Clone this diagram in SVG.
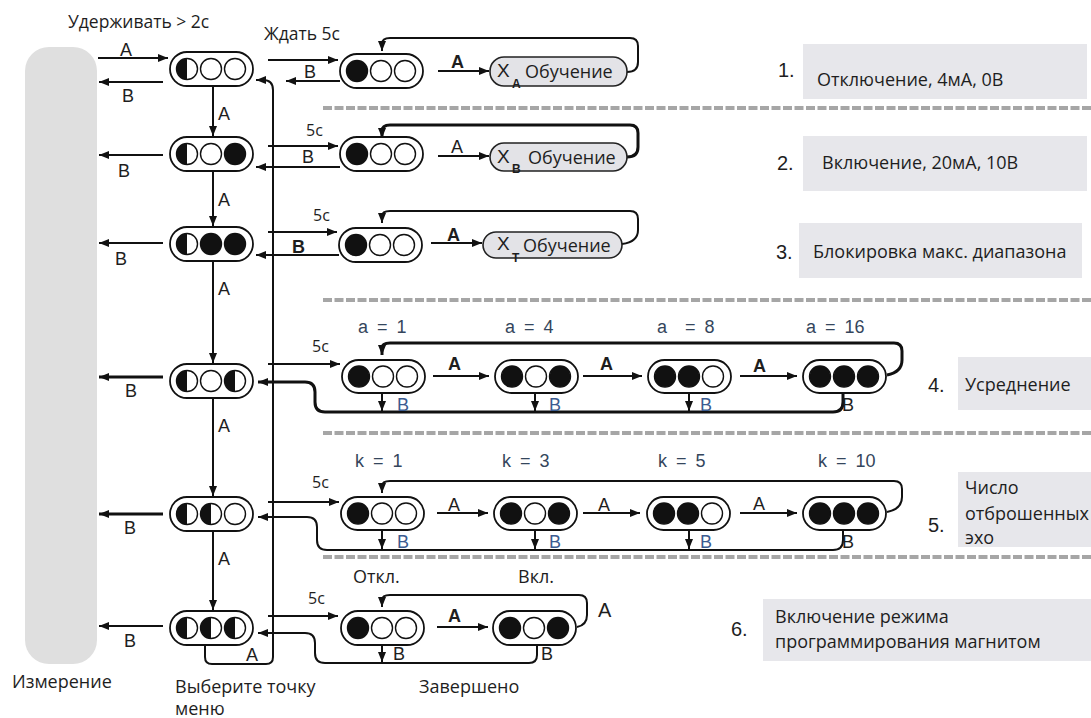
<svg xmlns="http://www.w3.org/2000/svg" width="1091" height="718" viewBox="0 0 1091 718">
<style>
.pill{fill:#fff;stroke:#111;stroke-width:1.8}
.learn{fill:#e3e3e7;stroke:#222;stroke-width:1.6}
.box{fill:#e7e7eb}
.c{fill:none;stroke:#111;stroke-width:2}
.thick{stroke-width:3}
.sep{fill:none;stroke:#a6a6a6;stroke-width:4;stroke-dasharray:9 2.5}
.ru{font-family:"Open Sans","Noto Sans",sans-serif;font-size:18px;fill:#1e1e1e}
.top{font-size:17.5px}
.ar{font-family:"Liberation Sans",Arial,sans-serif;font-size:18px;fill:#1e1e1e}
.num{font-family:"Liberation Sans",Arial,sans-serif;font-size:20px;fill:#1e1e1e}
.bold{font-weight:bold}
.sm{font-family:"Open Sans","Noto Sans",sans-serif;font-size:16px;fill:#1e1e1e}
.val{font-family:"Liberation Sans",Arial,sans-serif;font-size:18px;fill:#34465c;word-spacing:4px}
.blue{fill:#3b5b90}
</style>
<defs>
<marker id="ah" markerUnits="userSpaceOnUse" markerWidth="10" markerHeight="8" refX="10" refY="4" orient="auto">
<path d="M0,0 L10,4 L0,8 Z" fill="#111"/>
</marker>
<circle id="ce" r="10.5" fill="#fff" stroke="#111" stroke-width="1.4"/>
<circle id="cf" r="10.5" fill="#111" stroke="#111" stroke-width="1.4"/>
<g id="ch"><circle r="10.5" fill="#fff" stroke="#111" stroke-width="1.4"/><path d="M0,-10.5 A10.5,10.5 0 0,0 0,10.5 Z" fill="#111"/></g>
</defs>
<rect id="bar" x="25" y="47" width="72" height="617" rx="24" fill="#dfdfdf"/>
<g id="separators">
<path class="sep" d="M323,108 H1091"/>
<path class="sep" d="M323,300 H1091"/>
<path class="sep" d="M323,433 H1091"/>
<path class="sep" d="M323,557 H1091"/>
</g>
<g id="connectors">
<path class="c" d="M98,58 H168" marker-end="url(#ah)"/>
<path class="c" d="M163,82 H99" marker-end="url(#ah)"/>
<path class="c" d="M163,155 H99" marker-end="url(#ah)"/>
<path class="c" d="M163,243 H99" marker-end="url(#ah)"/>
<path class="c thick" d="M163,377 H99" marker-end="url(#ah)"/>
<path class="c thick" d="M163,514 H99" marker-end="url(#ah)"/>
<path class="c" d="M163,626 H99" marker-end="url(#ah)"/>
<path class="c" d="M213,87 V136" marker-end="url(#ah)"/>
<path class="c" d="M213,171 V226" marker-end="url(#ah)"/>
<path class="c" d="M213,261 V363" marker-end="url(#ah)"/>
<path class="c" d="M213,399 V496" marker-end="url(#ah)"/>
<path class="c" d="M213,532 V610" marker-end="url(#ah)"/>
<path class="c" d="M205,645 V657 Q205,664 212,664 H266 Q273,664 273,657 V90 Q273,80 263,80 H256" marker-end="url(#ah)"/>
<path class="c" d="M268,60 H338" marker-end="url(#ah)"/>
<path class="c" d="M340,81 H286" marker-end="url(#ah)"/>
<path class="c" d="M268,146 H338" marker-end="url(#ah)"/>
<path class="c" d="M340,167 H256" marker-end="url(#ah)"/>
<path class="c" d="M268,232 H337" marker-end="url(#ah)"/>
<path class="c" d="M339,255 H256" marker-end="url(#ah)"/>
<path class="c" d="M268,364 H340" marker-end="url(#ah)"/>
<path class="c" d="M268,502 H339" marker-end="url(#ah)"/>
<path class="c" d="M268,616 H338" marker-end="url(#ah)"/>
<path class="c" d="M438,71 H489" marker-end="url(#ah)"/>
<path class="c" d="M438,156 H489" marker-end="url(#ah)"/>
<path class="c" d="M431,243 H482" marker-end="url(#ah)"/>
<path class="c" d="M627,72 Q638,72 638,62 V46 Q638,38 630,38 H390 Q382,38 382,44 V51" marker-end="url(#ah)"/>
<path class="c thick" d="M627,157 Q638,157 638,147 V133 Q638,125 630,125 H390 Q382,125 382,131 V138" marker-end="url(#ah)"/>
<path class="c" d="M622,244 Q638,242 638,230 V219 Q638,211 630,211 H390 Q382,211 382,216 V223" marker-end="url(#ah)"/>
<path class="c" d="M433,376 H489" marker-end="url(#ah)"/>
<path class="c" d="M583,376 H642" marker-end="url(#ah)"/>
<path class="c" d="M740,376 H797" marker-end="url(#ah)"/>
<path class="c thick" d="M887,375 Q902,372 902,360 V351 Q902,343 894,343 H390 Q382,343 382,348 V355" marker-end="url(#ah)"/>
<path class="c thick" d="M843,394 V402 Q843,412 833,412 H325 Q315,412 315,402 V392 Q315,382 305,382 H258" marker-end="url(#ah)"/>
<path class="c" d="M382,394 V411" marker-end="url(#ah)"/>
<path class="c" d="M535,394 V411" marker-end="url(#ah)"/>
<path class="c" d="M689,394 V411" marker-end="url(#ah)"/>
<path class="c" d="M437,513 H488" marker-end="url(#ah)"/>
<path class="c" d="M583,513 H640" marker-end="url(#ah)"/>
<path class="c" d="M740,513 H797" marker-end="url(#ah)"/>
<path class="c" d="M887,512 Q902,509 902,497 V489 Q902,481 894,481 H390 Q382,481 382,486 V493" marker-end="url(#ah)"/>
<path class="c" d="M843,531 V540 Q843,550 833,550 H327 Q317,550 317,540 V527 Q317,517 307,517 H258" marker-end="url(#ah)"/>
<path class="c" d="M382,531 V549" marker-end="url(#ah)"/>
<path class="c" d="M535,531 V549" marker-end="url(#ah)"/>
<path class="c" d="M689,531 V549" marker-end="url(#ah)"/>
<path class="c" d="M437,627 H488" marker-end="url(#ah)"/>
<path class="c" d="M577,627 Q587,625 587,615 V603 Q587,595 579,595 H390 Q382,595 382,600 V607" marker-end="url(#ah)"/>
<path class="c" d="M537,645 V655 Q537,663 529,663 H325 Q315,663 315,653 V643 Q315,633 305,633 H258" marker-end="url(#ah)"/>
<path class="c" d="M382,645 V662" marker-end="url(#ah)"/>
</g>
<g id="L1"><rect class="pill" x="170" y="52" width="83" height="34" rx="17"/><use href="#ch" x="187" y="69"/><use href="#ce" x="211" y="69"/><use href="#ce" x="235" y="69"/></g>
<g id="L2"><rect class="pill" x="170" y="137" width="83" height="34" rx="17"/><use href="#ch" x="187" y="154"/><use href="#ce" x="211" y="154"/><use href="#cf" x="235" y="154"/></g>
<g id="L3"><rect class="pill" x="170" y="227" width="83" height="34" rx="17"/><use href="#ch" x="187" y="244"/><use href="#cf" x="211" y="244"/><use href="#cf" x="235" y="244"/></g>
<g id="L4"><rect class="pill" x="170" y="364" width="83" height="34" rx="17"/><use href="#ch" x="187" y="381"/><use href="#ce" x="211" y="381"/><use href="#ch" x="235" y="381"/></g>
<g id="L5"><rect class="pill" x="170" y="497" width="83" height="34" rx="17"/><use href="#ch" x="187" y="514"/><use href="#ch" x="211" y="514"/><use href="#ce" x="235" y="514"/></g>
<g id="L6"><rect class="pill" x="170" y="611" width="83" height="34" rx="17"/><use href="#ch" x="187" y="628"/><use href="#ch" x="211" y="628"/><use href="#ch" x="235" y="628"/></g>
<g id="R1"><rect class="pill" x="340" y="54" width="83" height="34" rx="17"/><use href="#cf" x="357" y="71"/><use href="#ce" x="381" y="71"/><use href="#ce" x="405" y="71"/></g>
<g id="R2"><rect class="pill" x="340" y="137" width="83" height="34" rx="17"/><use href="#cf" x="357" y="154"/><use href="#ce" x="381" y="154"/><use href="#ce" x="405" y="154"/></g>
<g id="R3"><rect class="pill" x="339" y="228" width="83" height="34" rx="17"/><use href="#cf" x="356" y="245"/><use href="#ce" x="380" y="245"/><use href="#ce" x="404" y="245"/></g>
<g id="T1"><rect class="learn" x="490" y="57" width="137" height="29" rx="14"/><text class="ar" x="497" y="77" style="font-size:19px">X</text><text class="ar bold" x="512" y="88" style="font-size:12px">A</text><text class="ru" x="525" y="78">Обучение</text></g>
<g id="T2"><rect class="learn" x="490" y="143" width="137" height="28" rx="14"/><text class="ar" x="497" y="163" style="font-size:19px">X</text><text class="ar bold" x="512" y="173" style="font-size:12px">B</text><text class="ru" x="528" y="164">Обучение</text></g>
<g id="T3"><rect class="learn" x="483" y="232" width="139" height="26" rx="13"/><text class="ar" x="497" y="250" style="font-size:19px">X</text><text class="ar bold" x="512" y="262" style="font-size:12px">T</text><text class="ru" x="523" y="252">Обучение</text></g>
<g id="A1"><rect class="pill" x="342" y="360" width="83" height="33" rx="16.5"/><use href="#cf" x="359" y="376.5"/><use href="#ce" x="383" y="376.5"/><use href="#ce" x="407" y="376.5"/></g>
<g id="A2"><rect class="pill" x="495" y="360" width="83" height="33" rx="16.5"/><use href="#cf" x="512" y="376.5"/><use href="#ce" x="536" y="376.5"/><use href="#cf" x="560" y="376.5"/></g>
<g id="A3"><rect class="pill" x="648" y="360" width="83" height="33" rx="16.5"/><use href="#cf" x="665" y="376.5"/><use href="#cf" x="689" y="376.5"/><use href="#ce" x="713" y="376.5"/></g>
<g id="A4"><rect class="pill" x="803" y="360" width="83" height="33" rx="16.5"/><use href="#cf" x="820" y="376.5"/><use href="#cf" x="844" y="376.5"/><use href="#cf" x="868" y="376.5"/></g>
<g id="K1"><rect class="pill" x="341" y="497" width="83" height="33" rx="16.5"/><use href="#cf" x="358" y="513.5"/><use href="#ce" x="382" y="513.5"/><use href="#ce" x="406" y="513.5"/></g>
<g id="K2"><rect class="pill" x="494" y="497" width="83" height="33" rx="16.5"/><use href="#cf" x="511" y="513.5"/><use href="#ce" x="535" y="513.5"/><use href="#cf" x="559" y="513.5"/></g>
<g id="K3"><rect class="pill" x="647" y="497" width="83" height="33" rx="16.5"/><use href="#cf" x="664" y="513.5"/><use href="#cf" x="688" y="513.5"/><use href="#ce" x="712" y="513.5"/></g>
<g id="K4"><rect class="pill" x="803" y="497" width="83" height="33" rx="16.5"/><use href="#cf" x="820" y="513.5"/><use href="#cf" x="844" y="513.5"/><use href="#cf" x="868" y="513.5"/></g>
<g id="M1"><rect class="pill" x="341" y="611" width="83" height="34" rx="17"/><use href="#cf" x="358" y="628"/><use href="#ce" x="382" y="628"/><use href="#ce" x="406" y="628"/></g>
<g id="M2"><rect class="pill" x="493" y="611" width="83" height="34" rx="17"/><use href="#cf" x="510" y="628"/><use href="#ce" x="534" y="628"/><use href="#cf" x="558" y="628"/></g>
<g id="labels">
<text class="ru top" x="68" y="28">Удерживать &gt; 2с</text>
<text class="ar" x="120" y="56">A</text>
<text class="ar" x="122" y="102">B</text>
<text class="ar" x="118" y="177">B</text>
<text class="ar" x="115" y="265">B</text>
<text class="ar" x="125" y="397">B</text>
<text class="ar" x="124" y="534">B</text>
<text class="ar" x="124" y="647">B</text>
<text class="ar" x="218" y="120">A</text>
<text class="ar" x="218" y="206">A</text>
<text class="ar" x="218" y="295">A</text>
<text class="ar" x="218" y="432">A</text>
<text class="ar" x="218" y="565">A</text>
<text class="ar" x="246" y="661">A</text>
<text class="ru top" x="264" y="40">Ждать 5с</text>
<text class="ar" x="304" y="78">B</text>
<text class="ar bold" x="451" y="68">A</text>
<text class="sm" x="306" y="136">5с</text>
<text class="ar" x="302" y="163">B</text>
<text class="ar" x="451" y="153">A</text>
<text class="sm" x="313" y="221">5с</text>
<text class="ar bold" x="292" y="253">B</text>
<text class="ar bold" x="447" y="241">A</text>
<text class="val" x="358" y="333">a = 1</text>
<text class="val" x="505" y="333">a = 4</text>
<text class="val" x="657" y="333" xml:space="preserve">a  = 8</text>
<text class="val" x="806" y="333">a = 16</text>
<text class="sm" x="312" y="352">5с</text>
<text class="ar bold" x="448" y="370">A</text>
<text class="ar bold" x="600" y="370">A</text>
<text class="ar bold" x="753" y="372">A</text>
<text class="ar blue" x="397" y="411">B</text>
<text class="ar blue" x="549" y="411">B</text>
<text class="ar blue" x="700" y="411">B</text>
<text class="ar" x="842" y="411">B</text>
<text class="val" x="355" y="467">k = 1</text>
<text class="val" x="502" y="467">k = 3</text>
<text class="val" x="658" y="467">k = 5</text>
<text class="val" x="818" y="467">k = 10</text>
<text class="sm" x="312" y="488">5с</text>
<text class="ar" x="448" y="511">A</text>
<text class="ar" x="598" y="511">A</text>
<text class="ar" x="753" y="510">A</text>
<text class="ar blue" x="397" y="548">B</text>
<text class="ar blue" x="549" y="548">B</text>
<text class="ar blue" x="700" y="548">B</text>
<text class="ar" x="842" y="548">B</text>
<text class="ru" x="353" y="583">Откл.</text>
<text class="ru" x="518" y="583">Вкл.</text>
<text class="sm" x="308" y="604">5с</text>
<text class="ar bold" x="448" y="622">A</text>
<text class="ar" x="598" y="617" style="font-size:20px">A</text>
<text class="ar" x="393" y="660">B</text>
<text class="ar" x="541" y="660">B</text>
<text class="ru" x="419" y="693">Завершено</text>
<text class="ru" x="12" y="688">Измерение</text>
<text class="ru" x="175" y="693">Выберите точку</text>
<text class="ru" x="175" y="715">меню</text>
</g>
<g id="info1"><rect class="box" x="803" y="44" width="284" height="55"/><text class="num" x="778" y="77">1.</text><text class="ru" x="817" y="86">Отключение, 4мА, 0В</text></g>
<g id="info2"><rect class="box" x="803" y="136" width="284" height="55"/><text class="num" x="777" y="170">2.</text><text class="ru" x="822" y="169">Включение, 20мА, 10В</text></g>
<g id="info3"><rect class="box" x="799" y="223" width="283" height="55"/><text class="num" x="776" y="259">3.</text><text class="ru" x="813" y="258">Блокировка макс. диапазона</text></g>
<g id="info4"><rect class="box" x="958" y="357" width="133" height="53"/><text class="num" x="928" y="392">4.</text><text class="ru" x="965" y="391">Усреднение</text></g>
<g id="info5"><rect class="box" x="958" y="472" width="133" height="75"/><text class="num" x="928" y="532">5.</text><text class="ru" x="965" y="494">Число</text><text class="ru" x="965" y="520">отброшенных</text><text class="ru" x="965" y="544">эхо</text></g>
<g id="info6"><rect class="box" x="763" y="599" width="328" height="62"/><text class="num" x="731" y="636">6.</text><text class="ru" x="775" y="623">Включение режима</text><text class="ru" x="775" y="648">программирования магнитом</text></g>
</svg>
